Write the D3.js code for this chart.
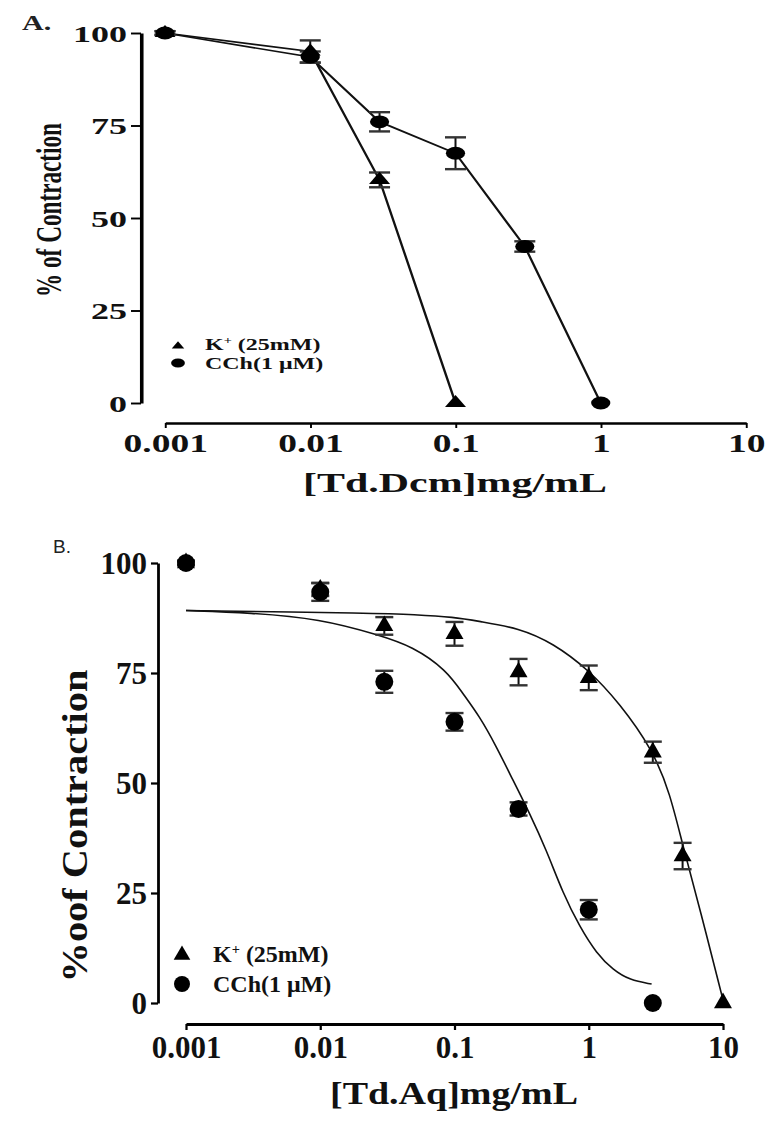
<!DOCTYPE html>
<html>
<head>
<meta charset="utf-8">
<script src="https://cdnjs.cloudflare.com/ajax/libs/d3/7.8.5/d3.min.js"></script>
<style>
    body { margin: 0; background: #fff; }
    svg { display: block; }
</style>
</head>
<body>
<svg id="chart" width="779" height="1132"></svg>
<script>
// ---- values ----
const xTickVals = [0.001, 0.01, 0.1, 1, 10];
const xTickLabels = ["0.001", "0.01", "0.1", "1", "10"];
const yTickVals = [0, 25, 50, 75, 100];

// Panel A - [Td.Dcm]
const concA_K = [0.001, 0.01, 0.03, 0.1];
const respA_K = [100, 95, 60.3, 0];
const errA_K = [0.5, 3, 2, 0];
const concA_C = [0.001, 0.01, 0.03, 0.1, 0.3, 1];
const respA_C = [100, 93.5, 76, 67.5, 42.3, 0];
const errA_C = [0.5, 1.5, 2.6, 4.3, 1.4, 0];

// Panel B - [Td.Aq]
const concB_K = [0.001, 0.01, 0.03, 0.1, 0.3, 1, 3, 5, 10];
const respB_K = [100, 94, 85.7, 83.9, 75.2, 73.9, 57, 33.4, 0];
const errB_K = [0.5, 1.5, 2, 2.7, 3, 2.8, 2.4, 3, 0];
const concB_C = [0.001, 0.01, 0.03, 0.1, 0.3, 1, 3];
const respB_C = [100, 93.4, 73, 63.9, 44.1, 21.2, 0];
const errB_C = [0.5, 2, 2.5, 2, 1.5, 2.2, 0];

// fitted curves of panel B
const fitB_K_x = [0.001, 0.0275, 0.0489, 0.1, 0.154, 0.302, 0.541, 1, 1.7, 3, 4.03, 5.04, 6.77, 10];
const fitB_K_y = [89.2, 88.6, 88.3, 87.7, 86.7, 85.2, 81.8, 75.7, 68.1, 57.5, 47.7, 35.5, 21.1, 0.7];
const fitB_C_x = [0.001, 0.003, 0.01, 0.0275, 0.0489, 0.0867, 0.115, 0.154, 0.205, 0.272, 0.363, 0.483, 0.643, 0.857, 1.14, 1.52, 2.02, 2.94];
const fitB_C_y = [89.2, 88.7, 87.3, 83.6, 81, 75.7, 70.4, 65.1, 58.3, 50.7, 43.1, 34.8, 24.9, 17.3, 11.3, 7.5, 5.2, 4.3];

const SERIF = "'Liberation Serif', 'Times New Roman', serif";

let svg = d3.select("#chart");

function zip(xs, ys, es) {
    return xs.map(function (c, i) { return { c: c, v: ys[i], e: es ? es[i] : 0 }; });
}

function drawPanel(p) {
    let sx = p.sx;
    // panel A of the original is stretched sideways, so draw it in a scaled group
    let g = svg.append("g").attr("transform", "scale(" + sx + ",1)");

    let x = d3.scaleLog().domain([0.001, 10]).range([p.xLeft / sx, p.xRight / sx]);
    let y = d3.scaleLinear().domain([0, 100]).range([p.yZero, p.yHundred]);

    // y axis
    let ya = g.append("g")
        .attr("transform", "translate(" + p.yAxisX / sx + ",0)")
        .call(d3.axisLeft(y).tickValues(yTickVals).tickSize(p.yTickLen / sx).tickSizeOuter(0));
    ya.select(".domain").attr("stroke-width", p.axisW).attr("stroke", "#000");
    ya.selectAll(".tick line").attr("stroke-width", p.axisW * 0.8);
    ya.selectAll(".tick text")
        .attr("x", -p.yLabelGap / sx)
        .attr("dy", "0.34em")
        .style("font-family", SERIF)
        .style("font-size", p.yTickFont + "px")
        .style("font-weight", "bold")
        .style("fill", "#111");

    // x axis
    let xa = g.append("g")
        .attr("transform", "translate(0," + p.xAxisY + ")")
        .call(d3.axisBottom(x).tickValues(xTickVals)
            .tickFormat(function (d, i) { return xTickLabels[i]; })
            .tickSize(p.xTickLen).tickSizeOuter(0));
    xa.select(".domain").attr("stroke-width", p.axisW).attr("stroke", "#000");
    xa.selectAll(".tick line").attr("stroke-width", p.axisW * 0.8 / sx);
    xa.selectAll(".tick text")
        .attr("y", p.xLabelBase - p.xAxisY)
        .attr("dy", 0)
        .style("font-family", SERIF)
        .style("font-size", p.xTickFont + "px")
        .style("font-weight", "bold")
        .style("fill", "#111");

    // axis titles
    g.append("text")
        .attr("x", p.xTitleX / sx)
        .attr("y", p.xTitleY)
        .attr("text-anchor", "middle")
        .attr("textLength", p.xTitleLen / sx)
        .attr("lengthAdjust", "spacingAndGlyphs")
        .style("font-family", SERIF)
        .style("font-size", p.xTitleFont + "px")
        .style("font-weight", "bold")
        .style("fill", "#111")
        .text(p.xTitle);

    g.append("text")
        .attr("transform", "translate(" + p.yTitleX / sx + "," + p.yTitleY + ") rotate(-90)")
        .attr("text-anchor", "middle")
        .attr("textLength", p.yTitleLen)
        .attr("lengthAdjust", "spacingAndGlyphs")
        .style("font-family", SERIF)
        .style("font-size", p.yTitleFont + "px")
        .style("font-weight", "bold")
        .style("fill", "#111")
        .text(p.yTitle);

    // panel letter
    g.append("text")
        .attr("x", p.tagX / sx)
        .attr("y", p.tagY)
        .style("font-family", p.tagFamily)
        .style("font-size", p.tagFont + "px")
        .style("font-weight", p.tagWeight)
        .style("fill", "#222")
        .text(p.tag);

    // connecting lines or fitted curves
    p.lines.forEach(function (ln) {
        g.append("path")
            .datum(ln.pts)
            .attr("fill", "none")
            .attr("stroke", "#111")
            .attr("stroke-width", 1.6)
            .attr("d", d3.line()
                .x(function (d) { return x(d.c); })
                .y(function (d) { return y(d.v); })
                .curve(ln.smooth ? d3.curveBasis : d3.curveLinear));
    });

    // error bars then markers (triangles first, circles on top)
    p.series.forEach(function (s) {
        let eg = g.append("g");
        let pts = s.pts.filter(function (d) { return d.e > 0; });
        eg.selectAll("line.v").data(pts).enter().append("line")
            .attr("x1", function (d) { return x(d.c); })
            .attr("x2", function (d) { return x(d.c); })
            .attr("y1", function (d) { return y(d.v + d.e); })
            .attr("y2", function (d) { return y(d.v - d.e); })
            .attr("stroke", "#111")
            .attr("stroke-width", 2 / sx);
        [1, -1].forEach(function (sg) {
            eg.selectAll("line.c" + sg).data(pts).enter().append("line")
                .attr("x1", function (d) { return x(d.c) - p.capW / 2; })
                .attr("x2", function (d) { return x(d.c) + p.capW / 2; })
                .attr("y1", function (d) { return y(d.v + sg * d.e); })
                .attr("y2", function (d) { return y(d.v + sg * d.e); })
                .attr("stroke", "#333")
                .attr("stroke-width", 2.4);
        });
    });

    p.series.forEach(function (s) {
        if (s.shape === "tri") {
            g.selectAll(null).data(s.pts).enter().append("path")
                .attr("d", d3.symbol().type(d3.symbolTriangle).size(p.triSize)())
                .attr("transform", function (d) { return "translate(" + x(d.c) + "," + y(d.v) + ")"; })
                .attr("fill", "#000");
        } else {
            g.selectAll(null).data(s.pts).enter().append("circle")
                .attr("cx", function (d) { return x(d.c); })
                .attr("cy", function (d) { return y(d.v); })
                .attr("r", p.dotR)
                .attr("fill", "#000");
        }
    });

    // legend
    let lg = p.legend;
    g.append("path")
        .attr("d", d3.symbol().type(d3.symbolTriangle).size(lg.triSize)())
        .attr("transform", "translate(" + lg.markX / sx + "," + lg.triY + ")")
        .attr("fill", "#000");
    g.append("circle")
        .attr("cx", lg.markX / sx)
        .attr("cy", lg.dotY)
        .attr("r", lg.dotR)
        .attr("fill", "#000");

    let t1 = g.append("text")
        .attr("x", lg.textX / sx)
        .attr("y", lg.base1)
        .style("font-family", SERIF)
        .style("font-size", lg.font + "px")
        .style("font-weight", "bold")
        .style("fill", "#111");
    t1.append("tspan").text("K");
    t1.append("tspan").attr("dy", -lg.font * 0.35).style("font-size", (lg.font * 0.6) + "px").text("+");
    t1.append("tspan").attr("dy", lg.font * 0.35).text(" (25mM)");

    g.append("text")
        .attr("x", lg.textX / sx)
        .attr("y", lg.base2)
        .style("font-family", SERIF)
        .style("font-size", lg.font + "px")
        .style("font-weight", "bold")
        .style("fill", "#111")
        .text("CCh(1 \u03bcM)");
}

drawPanel({
    sx: 1.5,
    xLeft: 165, xRight: 746, yZero: 403, yHundred: 33,
    axisW: 2.4,
    yAxisX: 141, yTickLen: 10, yLabelGap: 14, yTickFont: 24,
    xAxisY: 423, xTickLen: 5, xLabelBase: 452, xTickFont: 25,
    xTitle: "[Td.Dcm]mg/mL", xTitleX: 455, xTitleY: 492, xTitleFont: 27, xTitleLen: 304,
    yTitle: "% of Contraction", yTitleX: 61, yTitleY: 210, yTitleFont: 24, yTitleLen: 174,
    tag: "A.", tagX: 22, tagY: 30, tagFont: 20, tagFamily: SERIF, tagWeight: "bold",
    capW: 14, triSize: 85, dotR: 6.4,
    lines: [
        { pts: zip(concA_K, respA_K), smooth: false },
        { pts: zip(concA_C, respA_C), smooth: false }
    ],
    series: [
        { shape: "tri", pts: zip(concA_K, respA_K, errA_K) },
        { shape: "dot", pts: zip(concA_C, respA_C, errA_C) }
    ],
    legend: { markX: 178, triY: 346, dotY: 363, dotR: 4.6, triSize: 30,
              textX: 205, base1: 350, base2: 369, font: 16 }
});

drawPanel({
    sx: 1,
    xLeft: 186, xRight: 723, yZero: 1003, yHundred: 563,
    axisW: 2.8,
    yAxisX: 158, yTickLen: 7, yLabelGap: 11, yTickFont: 31,
    xAxisY: 1024, xTickLen: 6, xLabelBase: 1058, xTickFont: 31,
    xTitle: "[Td.Aq]mg/mL", xTitleX: 454, xTitleY: 1104, xTitleFont: 32, xTitleLen: 248,
    yTitle: "%oof Contraction", yTitleX: 87, yTitleY: 826, yTitleFont: 35, yTitleLen: 313,
    tag: "B.", tagX: 53, tagY: 553, tagFont: 19, tagFamily: "'Liberation Sans', Arial, sans-serif", tagWeight: "normal",
    capW: 18, triSize: 140, dotR: 9,
    lines: [
        { pts: zip(fitB_K_x, fitB_K_y), smooth: true },
        { pts: zip(fitB_C_x, fitB_C_y), smooth: true }
    ],
    series: [
        { shape: "tri", pts: zip(concB_K, respB_K, errB_K) },
        { shape: "dot", pts: zip(concB_C, respB_C, errB_C) }
    ],
    legend: { markX: 182, triY: 955, dotY: 984, dotR: 8, triSize: 120,
              textX: 213, base1: 962, base2: 992, font: 24 }
});
</script>
</body>
</html>
